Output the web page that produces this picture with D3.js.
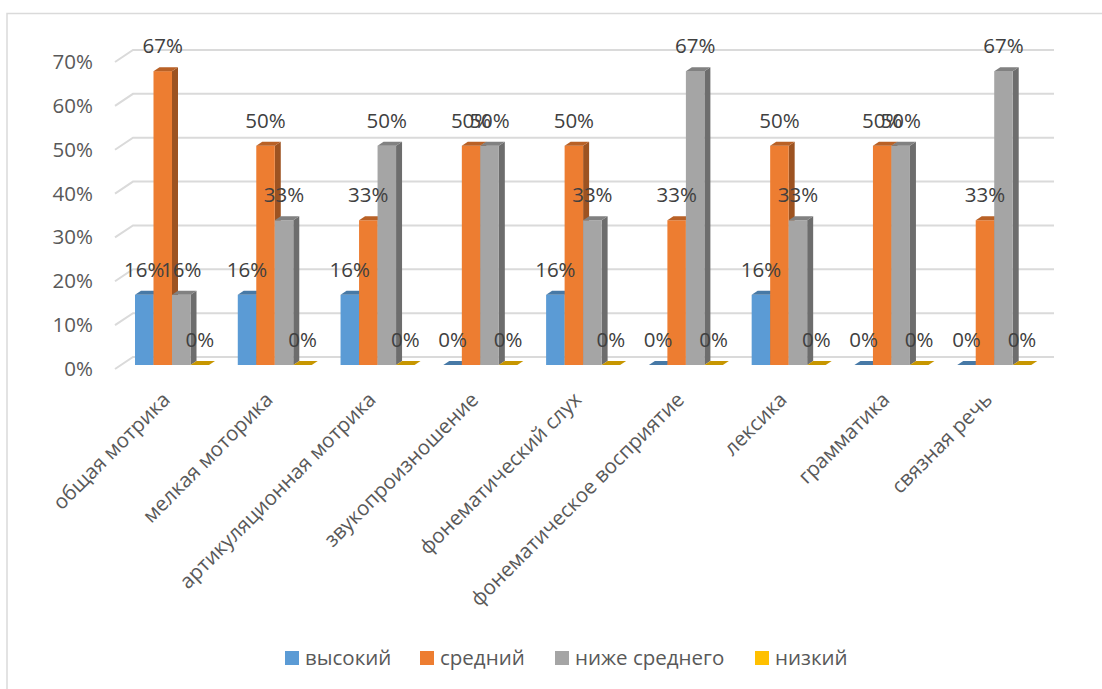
<!DOCTYPE html>
<html lang="ru">
<head>
<meta charset="UTF-8">
<title>Уровни</title>
<script src="https://d3js.org/d3.v7.min.js"></script>
<style>
  html, body { margin: 0; padding: 0; background: #fff; }
  svg { display: block; font-family: "Open Sans", sans-serif; }
</style>
</head>
<body>
<svg id="chart" width="1102" height="689"></svg>
<script>
// values, percent
const categories = ["общая мотрика", "мелкая моторика", "артикуляционная мотрика", "звукопроизношение",
  "фонематический слух", "фонематическое восприятие", "лексика", "грамматика", "связная речь"];
const seriesNames = ["высокий", "средний", "ниже среднего", "низкий"];
const high = [16, 16, 16, 0, 16, 0, 16, 0, 0];
const medium = [67, 50, 33, 50, 50, 33, 50, 50, 33];
const belowMedium = [16, 33, 50, 50, 33, 67, 33, 50, 67];
const low = [0, 0, 0, 0, 0, 0, 0, 0, 0];
const yTicks = [0, 10, 20, 30, 40, 50, 60, 70];

const seriesValues = [high, medium, belowMedium, low];
const colors = ["#5B9BD5", "#ED7D31", "#A5A5A5", "#FFC000"];

const svg = d3.select("#chart");

// fake 3d: floor depth and bar depth
const floorDx = 18, floorDy = -12;
const barDx = 6, barDy = -4;
const gridRight = 1036;

const x0 = d3.scaleBand().domain(categories).range([115, 1040]);
const x1 = d3.scaleBand().domain(seriesNames).range([0, 74]);
const y = d3.scaleLinear().domain([0, 70]).range([369, 62]);
const groupLeft = d => x0(d) + 20;

// frame
svg.append("path")
  .attr("d", "M7,689V13.5H1102")
  .attr("fill", "none")
  .attr("stroke", "#DADADA")
  .attr("stroke-width", 1.5);

// gridlines with the left wall
const grid = svg.append("g").attr("fill", "none").attr("stroke", "#DADADA").attr("stroke-width", 2);
yTicks.forEach(t => {
  grid.append("path")
    .attr("d", d3.line()([[115, y(t)], [115 + floorDx, y(t) + floorDy], [gridRight + floorDx, y(t) + floorDy]]));
});

// y axis
svg.append("g")
  .attr("transform", "translate(100,0)")
  .call(d3.axisLeft(y).tickValues(yTicks).tickSize(0).tickPadding(7).tickFormat(d => d + "%"))
  .call(g => g.select(".domain").remove())
  .call(g => g.selectAll("text").attr("font-size", 20.5).attr("font-family", "Open Sans").attr("fill", "#595959"));

// x axis labels
svg.append("g")
  .attr("transform", "translate(0,369)")
  .call(d3.axisBottom(x0).tickSize(0))
  .call(g => g.select(".domain").remove())
  .call(g => g.selectAll("text")
    .attr("font-size", 20.5)
    .attr("font-family", "Open Sans")
    .attr("fill", "#595959")
    .attr("text-anchor", "end")
    .attr("x", 5)
    .attr("y", 32)
    .attr("dy", 0)
    .attr("transform", "rotate(-45 5 32)"));

// bars
const bars = svg.append("g");
categories.forEach((cat, i) => {
  seriesNames.forEach((name, s) => {
    const v = seriesValues[s][i];
    const left = groupLeft(cat) + x1(name);
    const w = x1.bandwidth();
    const top = y(v) + barDy;
    const bottom = y(0) + barDy;
    const base = d3.color(colors[s]);
    if (v > 0) {
      bars.append("path")
        .attr("d", d3.line()([[left + w, top], [left + w + barDx, top + barDy], [left + w + barDx, bottom + barDy], [left + w, bottom]]))
        .attr("fill", base.darker(1.15));
      bars.append("rect")
        .attr("x", left).attr("y", top).attr("width", w).attr("height", bottom - top)
        .attr("fill", colors[s]);
    }
    bars.append("path")
      .attr("d", d3.line()([[left, top], [left + barDx, top + barDy], [left + w + barDx, top + barDy], [left + w, top]]))
      .attr("fill", base.darker(0.7));
  });
});

// data labels
const labels = svg.append("g");
categories.forEach((cat, i) => {
  seriesNames.forEach((name, s) => {
    const v = seriesValues[s][i];
    labels.append("text")
      .attr("x", groupLeft(cat) + x1(name) + x1.bandwidth() / 2)
      .attr("y", y(v) + barDy - 25)
      .attr("dy", "0.35em")
      .attr("text-anchor", "middle")
      .attr("font-size", 20.5)
      .attr("fill", "#404040")
      .text(v + "%");
  });
});

// legend
const legendX = [285, 420, 555, 755];
const legend = svg.append("g");
seriesNames.forEach((name, s) => {
  legend.append("rect")
    .attr("x", legendX[s]).attr("y", 651).attr("width", 14).attr("height", 14)
    .attr("fill", colors[s]);
  legend.append("text")
    .attr("x", legendX[s] + 20).attr("y", 658).attr("dy", "0.35em")
    .attr("font-size", 20.5).attr("fill", "#595959")
    .text(name);
});
</script>
</body>
</html>
